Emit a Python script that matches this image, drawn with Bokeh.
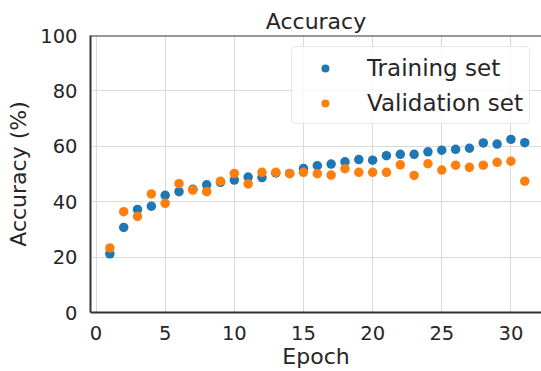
from bokeh.plotting import figure
from bokeh.models import ColumnDataSource, Legend, LegendItem, Span, FixedTicker
from bokeh.embed import file_html
from bokeh.resources import INLINE

epochs = list(range(1, 32))
training = [21.2, 30.7, 37.2, 38.4, 42.3, 43.6, 44.5, 46.1, 47.0, 47.8,
            48.9, 48.7, 50.4, 50.2, 52.0, 53.0, 53.6, 54.4, 55.2, 55.0,
            56.6, 57.1, 57.1, 58.0, 58.6, 58.9, 59.3, 61.2, 60.8, 62.5, 61.3]
validation = [23.3, 36.4, 34.7, 42.8, 39.4, 46.5, 44.2, 43.6, 47.4, 50.2,
              46.4, 50.6, 50.6, 50.1, 50.6, 50.1, 49.6, 51.9, 50.6, 50.6,
              50.6, 53.3, 49.5, 53.7, 51.4, 53.2, 52.4, 53.2, 54.2, 54.6, 47.4]
x_ticks = [0, 5, 10, 15, 20, 25, 30]
y_ticks = [0, 20, 40, 60, 80, 100]

FONT = "DejaVu Sans"
TXT = "#262626"

p = figure(width=541, height=371, output_backend="svg", toolbar_location=None,
           x_range=(-0.4, 32.21), y_range=(0, 100),
           title="Accuracy", min_border_right=0, min_border_left=90,
           min_border_top=35, min_border_bottom=0)

src = ColumnDataSource(dict(x=epochs, t=training, v=validation))
r1 = p.scatter("x", "t", source=src, size=9.5, color="#1f77b4", line_color=None)
r2 = p.scatter("x", "v", source=src, size=9.5, color="#ff7f0e", line_color=None)

p.title.text_font = FONT
p.title.text_font_size = "22px"
p.title.text_font_style = "normal"
p.title.text_color = TXT
p.title.align = "center"
p.title.standoff = 3

p.outline_line_color = None
p.add_layout(Span(location=100, dimension="width", line_color="#333333", line_width=2))

for ax in (p.xaxis[0], p.yaxis[0]):
    ax.axis_line_color = "#333333"
    ax.axis_line_width = 2
    ax.major_tick_line_color = None
    ax.minor_tick_line_color = None
    ax.major_label_text_font = FONT
    ax.major_label_text_font_size = "19.5px"
    ax.major_label_text_color = TXT
    ax.axis_label_text_font = FONT
    ax.axis_label_text_font_size = "22px"
    ax.axis_label_text_font_style = "normal"
    ax.axis_label_text_color = TXT

p.xaxis.axis_label = "Epoch"
p.yaxis.axis_label = "Accuracy (%)"
p.xaxis.ticker = FixedTicker(ticks=x_ticks)
p.yaxis.ticker = FixedTicker(ticks=y_ticks)
p.xaxis.major_label_standoff = 7
p.yaxis.major_label_standoff = 7
p.xaxis.axis_label_standoff = 1
p.yaxis.axis_label_standoff = 6

p.xgrid.ticker = FixedTicker(ticks=x_ticks)
p.ygrid.ticker = FixedTicker(ticks=y_ticks)
p.grid.grid_line_color = "#dadada"
p.grid.grid_line_width = 1

legend = Legend(items=[LegendItem(label="Training set", renderers=[r1]),
                       LegendItem(label="Validation set", renderers=[r2])],
                location="top_right")
legend.margin = 11
legend.padding = 6
legend.glyph_width = 54
legend.glyph_height = 20
legend.label_height = 29
legend.spacing = 6
legend.label_standoff = 15
legend.label_text_font = FONT
legend.label_text_font_size = "23px"
legend.label_text_color = TXT
legend.border_line_color = "#d0d0d0"
legend.border_line_width = 1
legend.border_radius = 5
legend.background_fill_alpha = 0.8
p.add_layout(legend)

open("out.html", "w").write(file_html(p, INLINE))
